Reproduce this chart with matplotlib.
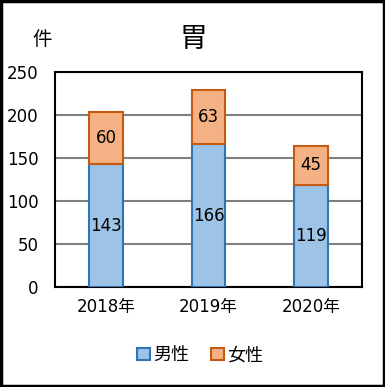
import matplotlib.pyplot as plt
from matplotlib.patches import Rectangle

plt.rcParams['font.family'] = ['DejaVu Sans', 'Noto Sans CJK JP']

years = ['2018年', '2019年', '2020年']
male = [143, 166, 119]
female = [60, 63, 45]

fig = plt.figure(figsize=(3.85, 3.87), dpi=100)
ax = fig.add_axes([0.143, 0.258, 0.797, 0.556])

x = range(len(years))
b1 = ax.bar(x, male, width=0.33, color='#9DC3E6', edgecolor='#2E75B6', linewidth=1.5, label='男性', zorder=3)
b2 = ax.bar(x, female, width=0.33, bottom=male, color='#F4B183', edgecolor='#C55A11', linewidth=1.5, label='女性', zorder=3)

for i in x:
    ax.text(i, male[i] / 2, str(male[i]), ha='center', va='center', fontsize=12, zorder=4)
    ax.text(i, male[i] + female[i] / 2, str(female[i]), ha='center', va='center', fontsize=12, zorder=4)

ax.set_xlim(-0.5, 2.5)
ax.set_ylim(0, 250)
ax.set_yticks(range(0, 251, 50))
ax.set_xticks(list(x))
ax.set_xticklabels(years)
ax.tick_params(axis='both', length=0, labelsize=12)
ax.tick_params(axis='y', pad=12)
ax.tick_params(axis='x', pad=8)
ax.yaxis.grid(True, color='#808080', linewidth=1.5, zorder=0)
for s in ax.spines.values():
    s.set_linewidth(1.5)
    s.set_color('black')

fig.text(0.502, 0.9, '胃', ha='center', va='center', fontsize=20)
fig.text(0.11, 0.897, '件', ha='center', va='center', fontsize=14)

fig.legend(handles=[b1, b2], loc='center', bbox_to_anchor=(0.52, 0.082), ncol=2, frameon=False,
           fontsize=13, handlelength=0.7, handleheight=0.7, handletextpad=0.2, columnspacing=1.2)

fig.patches.append(Rectangle((0.003, 0.003), 0.994, 0.994, transform=fig.transFigure,
                             fill=False, edgecolor='black', linewidth=2.5))

fig.savefig('out.png', dpi=100)
